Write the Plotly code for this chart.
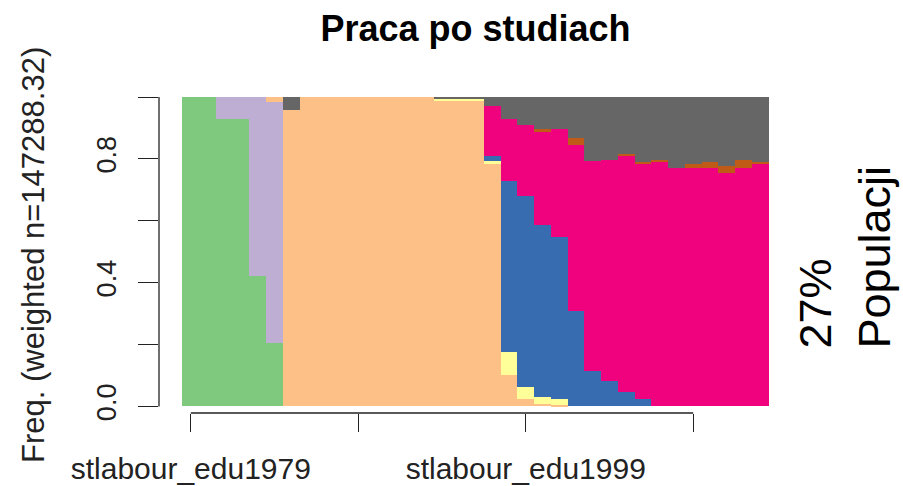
import plotly.graph_objects as go

years = list(range(1979, 2014))
tick_years = [1979, 1989, 1999, 2009]
tick_labels = ["stlabour_edu1979", "", "stlabour_edu1999", ""]
y_ticks = [0, 0.2, 0.4, 0.6, 0.8, 1.0]
y_tick_labels = ["0.0", "", "0.4", "", "0.8", ""]

state_names = ["s1", "s2", "s3", "s4", "s5", "s6", "s7", "s8"]
state_colors = ["#7FC97F", "#BEAED4", "#FDC086", "#FFFF99",
                "#386CB0", "#F0027F", "#BF5B17", "#666666"]

s1 = [1, 1, 0.929, 0.929, 0.420, 0.205] + [0] * 29
s2 = [0, 0, 0.071, 0.071, 0.580, 0.780] + [0] * 29
s3 = [0, 0, 0, 0, 0, 0.015, 0.959, 1, 1, 1, 1, 1, 1, 1, 1,
      0.987, 0.987, 0.987, 0.784, 0.100, 0.024, 0.009, 0.005] + [0] * 12
s4 = [0] * 15 + [0.007, 0.007, 0.007, 0.008, 0.076, 0.039, 0.021, 0.019] + [0] * 12
s5 = [0] * 18 + [0.018, 0.551, 0.616, 0.557, 0.522, 0.309, 0.115, 0.081,
                 0.045, 0.024] + [0] * 7
s6 = [0] * 18 + [0.160, 0.203, 0.229, 0.302, 0.349, 0.537, 0.677, 0.716,
                 0.765, 0.760, 0.791, 0.770, 0.770, 0.770, 0.756, 0.770, 0.784]
s7 = [0] * 21 + [0.006, 0, 0.020, 0, 0, 0.007, 0.006, 0.005, 0, 0.013,
                 0.020, 0.020, 0.026, 0.006]
s8 = [0] * 6 + [0.041] + [0] * 8 + [0.006, 0.006, 0.006, 0.030, 0.070, 0.092,
                                    0.105, 0.105, 0.134, 0.208, 0.203, 0.183,
                                    0.210, 0.204, 0.230, 0.217, 0.210, 0.224,
                                    0.204, 0.210]
series = [s1, s2, s3, s4, s5, s6, s7, s8]

fig = go.Figure()
for name, col, vals in zip(state_names, state_colors, series):
    fig.add_trace(go.Bar(x=years, y=vals, name=name, width=1.0,
                         marker=dict(color=col, line=dict(width=0)),
                         showlegend=False))

font_family = "Liberation Sans, Arial, sans-serif"
fig.update_layout(
    width=903, height=486, autosize=False,
    barmode="stack", bargap=0,
    plot_bgcolor="white", paper_bgcolor="white",
    margin=dict(l=159.3, r=110.9, t=97.3, b=72.7, pad=0, autoexpand=False),
    font=dict(family=font_family, color="black"),
    title=dict(text="<b>Praca po studiach</b>", x=0.5, xref="paper",
               y=1 - 28 / 486, yref="container", yanchor="middle",
               xanchor="center", font=dict(size=36, color="black")),
    xaxis=dict(range=[1977.1, 2014.9], tickvals=tick_years, ticktext=tick_labels,
               ticks="outside", ticklen=18, tickwidth=1.3, tickcolor="#222",
               showgrid=False, zeroline=False, showline=False,
               tickfont=dict(size=30, color="#222"), ticklabelstandoff=11),
    yaxis=dict(range=[-0.0213, 1.0], tickvals=y_ticks, ticktext=y_tick_labels,
               ticks="outside", ticklen=20, tickwidth=1.3, tickcolor="#222",
               tickangle=-90, showgrid=False, zeroline=False, showline=False,
               tickfont=dict(size=27, color="#222"), ticklabelstandoff=11),
)

# axis lines spanning only first to last tick (R style)
fig.add_shape(type="line", xref="x", yref="paper", x0=tick_years[0], x1=tick_years[-1],
              y0=0, y1=0, line=dict(color="#222", width=1.3))
fig.add_shape(type="line", xref="paper", yref="y", x0=0, x1=0,
              y0=y_ticks[0], y1=y_ticks[-1], line=dict(color="#222", width=1.3))

fig.add_annotation(text="Freq. (weighted n=147288.32)", textangle=-90,
                   xref="paper", yref="paper", x=0, y=0.5, xshift=-126,
                   xanchor="center", yanchor="middle", showarrow=False,
                   font=dict(size=31, color="#222"))
fig.add_annotation(text="27%<br>Populacji", textangle=-90, align="left",
                   xref="paper", yref="paper", x=1, y=0.5, xshift=53.4,
                   yshift=-2.2, xanchor="center", yanchor="middle",
                   showarrow=False, font=dict(size=45, color="black"))

fig.write_html("out.html", config={"displayModeBar": False},
               post_script="document.body.style.margin='0';")
